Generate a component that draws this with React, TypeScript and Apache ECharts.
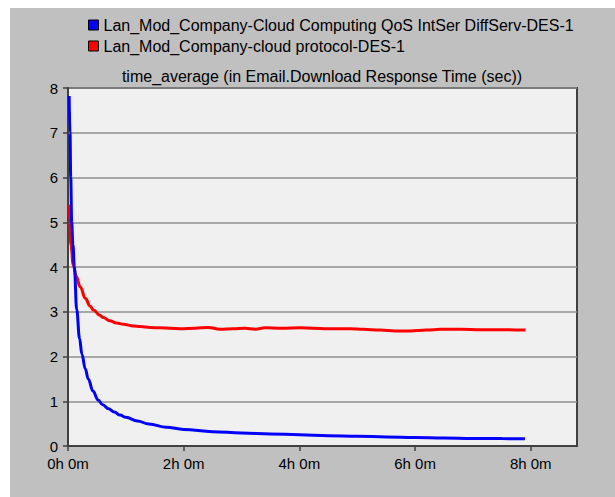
import React, { useEffect, useRef } from "react";
import * as echarts from "echarts";

const seriesNames = [
  "Lan_Mod_Company-Cloud Computing QoS IntSer DiffServ-DES-1",
  "Lan_Mod_Company-cloud protocol-DES-1",
];
const chartTitle = "time_average (in Email.Download Response Time (sec))";

// time in hours
const blueTimes = [0.02, 0.035, 0.047, 0.064, 0.085, 0.11, 0.15, 0.2, 0.24, 0.3, 0.35, 0.43, 0.52, 0.6, 0.7, 0.8, 0.9, 1.0, 1.2, 1.4, 1.7, 2.0, 2.5, 3.0, 3.5, 4.0, 4.5, 5.0, 5.5, 6.0, 6.5, 7.0, 7.5, 7.9];
const blueValues = [7.82, 7.0, 6.0, 5.0, 4.5, 4.0, 3.05, 2.4, 2.05, 1.72, 1.5, 1.23, 1.03, 0.92, 0.83, 0.76, 0.69, 0.64, 0.56, 0.49, 0.42, 0.37, 0.32, 0.29, 0.27, 0.25, 0.23, 0.22, 0.2, 0.19, 0.18, 0.17, 0.165, 0.16];

const redTimes = [0.02, 0.03, 0.05, 0.09, 0.14, 0.21, 0.3, 0.38, 0.44, 0.55, 0.61, 0.72, 0.84, 0.96, 1.13, 1.25, 1.42, 1.59, 1.94, 2.2, 2.42, 2.63, 2.85, 3.06, 3.24, 3.41, 3.7, 4.02, 4.45, 4.88, 5.1, 5.4, 5.66, 5.92, 6.2, 6.44, 6.8, 7.13, 7.5, 7.91];
const redValues = [5.39, 5.0, 4.5, 4.05, 3.8, 3.56, 3.3, 3.13, 3.04, 2.92, 2.87, 2.8, 2.75, 2.72, 2.68, 2.67, 2.65, 2.64, 2.62, 2.63, 2.65, 2.61, 2.62, 2.63, 2.61, 2.64, 2.63, 2.64, 2.62, 2.62, 2.61, 2.59, 2.57, 2.57, 2.59, 2.61, 2.61, 2.6, 2.6, 2.59];

const xTickValues = [0, 2, 4, 6, 8];
const xTickLabels = ["0h 0m", "2h 0m", "4h 0m", "6h 0m", "8h 0m"];

const FONT = "'Liberation Sans', Arial, sans-serif";

export default function App() {
  const ref = useRef<HTMLDivElement>(null);

  useEffect(() => {
    if (!ref.current) return;
    const chart = echarts.init(ref.current, undefined, { renderer: "svg" });
    const pair = (ts: number[], vs: number[]) => ts.map((t, i) => [t, vs[i]]);
    chart.setOption({
      animation: false,
      backgroundColor: "#c0c0c0",
      textStyle: { fontFamily: FONT },
      legend: {
        orient: "vertical",
        left: 78,
        top: 9,
        padding: 0,
        itemGap: 5,
        itemWidth: 10,
        itemHeight: 10,
        icon: "rect",
        selectedMode: false,
        textStyle: { fontSize: 16, color: "#000", fontFamily: FONT, lineHeight: 16 },
        data: seriesNames.map((n, i) => ({
          name: n,
          itemStyle: { color: i === 0 ? "#0000ff" : "#ff0000", borderColor: "#000", borderWidth: 1 },
        })),
      },
      graphic: [
        {
          type: "text",
          x: 312,
          y: 68,
          style: {
            text: chartTitle,
            fontSize: 16,
            fontFamily: FONT,
            fill: "#000",
            align: "center",
            verticalAlign: "middle",
          },
        },
      ],
      grid: {
        left: 58,
        top: 80,
        right: 38,
        bottom: 51,
        show: true,
        backgroundColor: "#f0f0f0",
        borderColor: "#404040",
        borderWidth: 2,
      },
      xAxis: {
        type: "value",
        min: 0,
        max: 8.8,
        interval: 2,
        axisLine: { show: true, lineStyle: { color: "#404040", width: 2 } },
        axisTick: {
          show: true,
          length: 5,
          customValues: xTickValues,
          lineStyle: { color: "#404040", width: 1.5 },
        },
        axisLabel: {
          customValues: xTickValues,
          margin: 10,
          fontSize: 15,
          color: "#000",
          fontFamily: FONT,
          formatter: (v: number) => {
            const i = xTickValues.indexOf(Math.round(v));
            return i >= 0 ? xTickLabels[i] : "";
          },
        },
        splitLine: { show: false },
      },
      yAxis: {
        type: "value",
        min: 0,
        max: 8,
        interval: 1,
        axisLine: { show: true, lineStyle: { color: "#404040", width: 2 } },
        axisTick: { show: true, length: 5, lineStyle: { color: "#404040", width: 1.5 } },
        axisLabel: { margin: 10, fontSize: 15, color: "#000", fontFamily: FONT },
        splitLine: { show: true, lineStyle: { color: "#8f8f8f", width: 1.5 } },
      },
      series: [
        {
          name: seriesNames[0],
          type: "line",
          data: pair(blueTimes, blueValues),
          showSymbol: false,
          smooth: 0.4,
          smoothMonotone: "x",
          lineStyle: { color: "#0000ff", width: 3 },
          itemStyle: { color: "#0000ff" },
          z: 3,
        },
        {
          name: seriesNames[1],
          type: "line",
          data: pair(redTimes, redValues),
          showSymbol: false,
          smooth: 0.4,
          smoothMonotone: "x",
          lineStyle: { color: "#ff0000", width: 3 },
          itemStyle: { color: "#ff0000" },
          z: 2,
        },
      ],
    });
    return () => chart.dispose();
  }, []);

  return (
    <div style={{ position: "fixed", left: 0, top: 0, width: 615, height: 497, background: "#fff" }}>
      <div ref={ref} style={{ position: "absolute", left: 10, top: 8, width: 605, height: 489 }} />
    </div>
  );
}
